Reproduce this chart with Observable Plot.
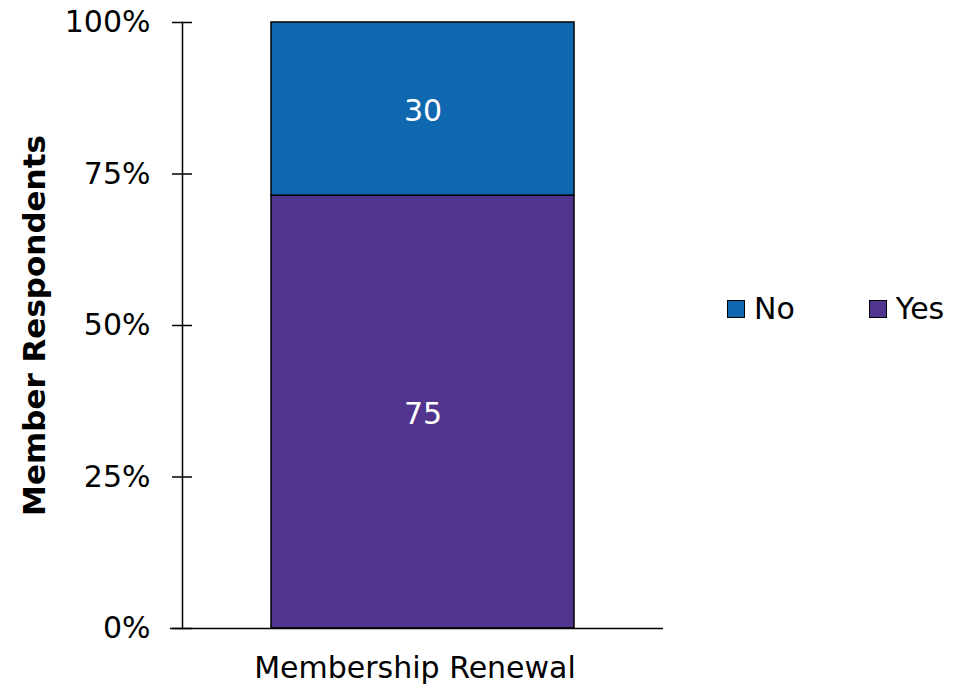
<!DOCTYPE html>
<html>
<head>
<meta charset="utf-8">
<script src="https://cdn.jsdelivr.net/npm/d3@7"></script>
<script src="https://cdn.jsdelivr.net/npm/@observablehq/plot@0.6"></script>
<style>
  html, body { margin: 0; padding: 0; background: #fff; }
  #wrap { position: relative; width: 969px; height: 689px; font-family: "DejaVu Sans", Verdana, sans-serif; }
  #legend { position: absolute; left: 727px; top: 291px; display: flex; gap: 0; font-size: 30px; color: #000; }
  .item { display: flex; align-items: center; }
  .sw { width: 16px; height: 16px; border: 1.5px solid #000; margin-right: 9px; }
</style>
</head>
<body>
<div id="wrap"></div>
<script>
const categories = ["Membership Renewal"];
const series = ["No", "Yes"];
const noValues = [30];
const yesValues = [75];
const colors = ["#1069B0", "#51348D"];
const yTicks = [0, 0.25, 0.5, 0.75, 1];
const yLabel = "Member Respondents";

const data = [];
categories.forEach((c, i) => {
  data.push({category: c, answer: "Yes", value: yesValues[i]});
  data.push({category: c, answer: "No", value: noValues[i]});
});

const stackOpts = {x: "category", y: "value", z: "answer", offset: "normalize", order: ["Yes", "No"]};

const chart = Plot.plot({
  width: 969,
  height: 689,
  marginLeft: 182,
  marginRight: 306,
  marginTop: 22,
  marginBottom: 61,
  style: {fontFamily: "DejaVu Sans, Verdana, sans-serif", fontSize: "30px", color: "#000", background: "#fff"},
  x: {domain: categories, padding: 0.227, label: null},
  y: {domain: [0, 1], label: null},
  color: {domain: series, range: colors},
  marks: [
    Plot.barY(data, Plot.stackY({...stackOpts, fill: "answer", stroke: "#000", strokeWidth: 1.5})),
    Plot.text(data, Plot.stackY({...stackOpts, text: "value", fill: "#fff", fontSize: 30, dy: 2})),
    Plot.frame({anchor: "left", stroke: "#000", strokeWidth: 1.5}),
    Plot.ruleY([0], {insetLeft: -12, stroke: "#000", strokeWidth: 1.5}),
    Plot.axisY({ticks: yTicks, tickSize: 20, dx: 10, text: null, stroke: "#000", strokeWidth: 1.5}),
    Plot.axisY({ticks: yTicks, tickSize: 0, tickPadding: 32, tickFormat: d3.format(".0%"), label: null, fill: "#000"}),
    Plot.axisX({tickSize: 0, tickPadding: 28, dx: -8, label: null, fill: "#000"}),
    Plot.text([yLabel], {frameAnchor: "left", textAnchor: "middle", lineAnchor: "middle", rotate: -90, dx: -147, fontWeight: "bold", fontSize: 31, fill: "#000"})
  ]
});

const wrap = document.getElementById("wrap");
wrap.appendChild(chart);

const legend = document.createElement("div");
legend.id = "legend";
series.forEach((s, i) => {
  const item = document.createElement("div");
  item.className = "item";
  item.style.marginRight = i === 0 ? "74px" : "0";
  const sw = document.createElement("div");
  sw.className = "sw";
  sw.style.background = colors[i];
  const t = document.createElement("span");
  t.textContent = s;
  item.appendChild(sw);
  item.appendChild(t);
  legend.appendChild(item);
});
wrap.appendChild(legend);
</script>
</body>
</html>
